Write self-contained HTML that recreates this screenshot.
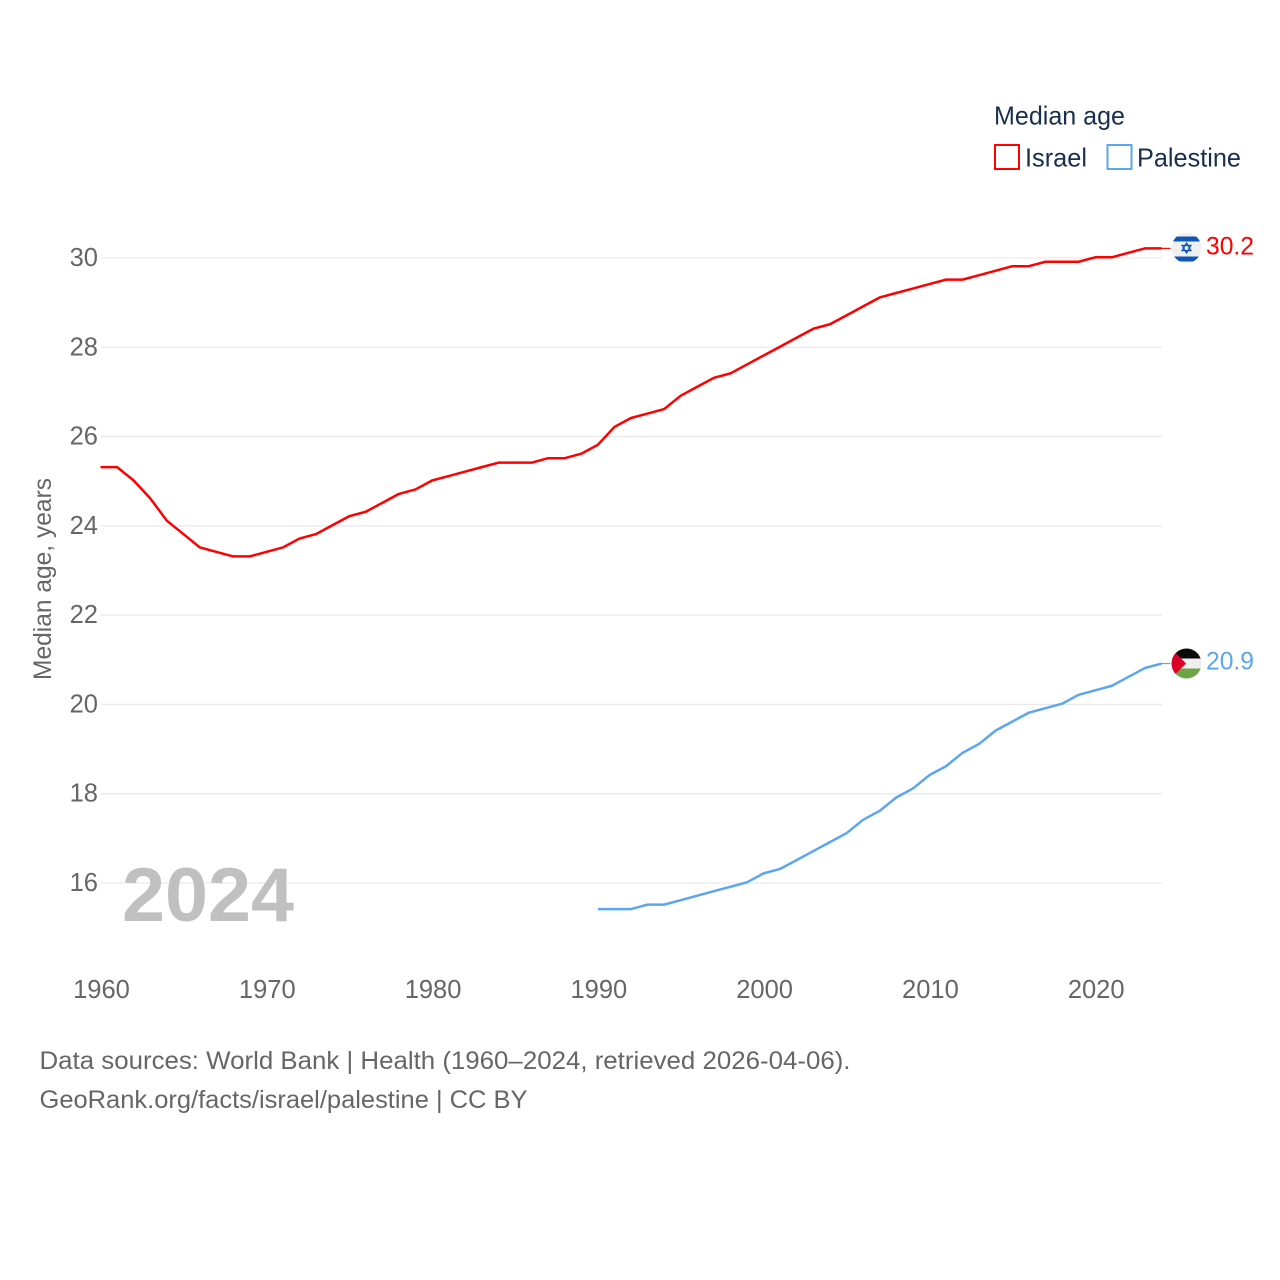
<!DOCTYPE html>
<html lang="en">
<head>
<meta charset="utf-8">
<title>Median age: Israel and Palestine</title>
<style>
html,body{margin:0;padding:0;background:#fff;width:1280px;height:1280px;overflow:hidden}
svg{display:block}
text{font-family:"Liberation Sans",sans-serif}
</style>
</head>
<body>
<svg id="chart" width="1280" height="1280" viewBox="0 0 1280 1280" xmlns="http://www.w3.org/2000/svg">
  <defs>
    <clipPath id="flag-il-clip"><circle cx="1186.5" cy="248" r="15"/></clipPath>
    <clipPath id="flag-ps-clip"><circle cx="1186.5" cy="663.5" r="15"/></clipPath>
  </defs>
  <g id="grid"></g>
  <g id="y-ticks"></g>
  <g id="x-ticks"></g>

  <text transform="translate(51,680) rotate(-90)" font-size="25" fill="#666" textLength="202" lengthAdjust="spacingAndGlyphs">Median age, years</text>
  <text x="122" y="921" font-size="76" font-weight="700" fill="#c0c0c0" textLength="172" lengthAdjust="spacingAndGlyphs">2024</text>

  <g transform="translate(-0.5,-0.7)">
    <polyline id="connector-israel" fill="none" stroke="#ff0000" stroke-width="1.2"/>
    <polyline id="connector-palestine" fill="none" stroke="#5ba6ee" stroke-width="1.2"/>
    <polyline id="line-israel" fill="none" stroke="#ff0000" stroke-width="2.5" stroke-linejoin="round"/>
    <polyline id="line-palestine" fill="none" stroke="#5ba6ee" stroke-width="2.5" stroke-linejoin="round"/>
  </g>

  <g clip-path="url(#flag-il-clip)">
    <rect x="1171" y="233" width="31" height="30" fill="#f0f0f0"/>
    <rect x="1171" y="236.5" width="31" height="5" fill="#0f56b5"/>
    <rect x="1171" y="256.5" width="31" height="5" fill="#0f56b5"/>
    <path d="M1186.5 243l4.4 7.6h-8.8z M1186.5 253l4.4-7.6h-8.8z" fill="none" stroke="#0f56b5" stroke-width="1.3"/>
  </g>
  <g clip-path="url(#flag-ps-clip)">
    <rect x="1171" y="648" width="31" height="10.5" fill="#0a0a0a"/>
    <rect x="1171" y="658.5" width="31" height="10" fill="#efefef"/>
    <rect x="1171" y="668.5" width="31" height="11" fill="#6da544"/>
    <path d="M1171 648.5L1186 663.5L1171 678.5Z" fill="#d80027"/>
  </g>

  <text id="label-israel" x="1206" y="254.5" font-size="25" fill="#ff0000" textLength="48" lengthAdjust="spacingAndGlyphs">30.2</text>
  <text id="label-palestine" x="1206" y="669.5" font-size="25" fill="#5ba6ee" textLength="48" lengthAdjust="spacingAndGlyphs">20.9</text>

  <g>
    <text x="994" y="124.5" font-size="26" fill="#1a2f4f" textLength="131" lengthAdjust="spacingAndGlyphs">Median age</text>
    <g>
      <rect x="995" y="145" width="24" height="24" fill="#fff" stroke="#ff0000" stroke-width="2"/>
      <text x="1025" y="166.5" font-size="26" fill="#1a2f4f" textLength="62" lengthAdjust="spacingAndGlyphs">Israel</text>
    </g>
    <g>
      <rect x="1107.5" y="145" width="24" height="24" fill="#fff" stroke="#5ba6ee" stroke-width="2"/>
      <text x="1137" y="166.5" font-size="26" fill="#1a2f4f" textLength="104" lengthAdjust="spacingAndGlyphs">Palestine</text>
    </g>
  </g>

  <text x="39.5" y="1069" font-size="25" fill="#666" textLength="811" lengthAdjust="spacingAndGlyphs">Data sources: World Bank | Health (1960–2024, retrieved 2026-04-06).</text>
  <text x="39.5" y="1108" font-size="25" fill="#666" textLength="488" lengthAdjust="spacingAndGlyphs">GeoRank.org/facts/israel/palestine | CC BY</text>
</svg>
<script>
const israelStartYear = 1960;
const israelValues = [25.3,25.3,25.0,24.6,24.1,23.8,23.5,23.4,23.3,23.3,23.4,23.5,23.7,23.8,24.0,24.2,24.3,24.5,24.7,24.8,25.0,25.1,25.2,25.3,25.4,25.4,25.4,25.5,25.5,25.6,25.8,26.2,26.4,26.5,26.6,26.9,27.1,27.3,27.4,27.6,27.8,28.0,28.2,28.4,28.5,28.7,28.9,29.1,29.2,29.3,29.4,29.5,29.5,29.6,29.7,29.8,29.8,29.9,29.9,29.9,30.0,30.0,30.1,30.2,30.2];
const palestineStartYear = 1990;
const palestineValues = [15.4,15.4,15.4,15.5,15.5,15.6,15.7,15.8,15.9,16.0,16.2,16.3,16.5,16.7,16.9,17.1,17.4,17.6,17.9,18.1,18.4,18.6,18.9,19.1,19.4,19.6,19.8,19.9,20.0,20.2,20.3,20.4,20.6,20.8,20.9];
const yTickValues = [16,18,20,22,24,26,28,30];
const xTickValues = [1960,1970,1980,1990,2000,2010,2020];

const NS = 'http://www.w3.org/2000/svg';
function xScale(year) { return 101 + (year - 1960) * (1162 - 101) / 64; }
function yScale(value) { return 883 - (value - 16) * (883 - 258) / 14; }
function seriesPoints(startYear, values) {
  return values.map(function (v, i) {
    return xScale(startYear + i).toFixed(2) + ',' + yScale(v).toFixed(2);
  }).join(' ');
}

const gridGroup = document.getElementById('grid');
const yGroup = document.getElementById('y-ticks');
const xGroup = document.getElementById('x-ticks');

yTickValues.forEach(function (v) {
  const line = document.createElementNS(NS, 'line');
  
  
  line.setAttribute('x1', 101);
  line.setAttribute('x2', 1162);
  line.setAttribute('y1', yScale(v));
  line.setAttribute('y2', yScale(v));
  line.setAttribute('stroke', '#e9e9e9');
  line.setAttribute('stroke-width', '1.3');
  gridGroup.appendChild(line);

  const label = document.createElementNS(NS, 'text');
  
  
  label.setAttribute('x', 98);
  label.setAttribute('y', yScale(v) + 8);
  label.setAttribute('text-anchor', 'end');
  label.setAttribute('font-size', '25.5');
  label.setAttribute('fill', '#666');
  label.textContent = String(v);
  yGroup.appendChild(label);
});

xTickValues.forEach(function (y) {
  const label = document.createElementNS(NS, 'text');
  
  
  label.setAttribute('x', xScale(y) + 0.5);
  label.setAttribute('y', 998);
  label.setAttribute('text-anchor', 'middle');
  label.setAttribute('font-size', '25.5');
  label.setAttribute('fill', '#666');
  label.textContent = String(y);
  xGroup.appendChild(label);
});

document.getElementById('line-israel').setAttribute('points', seriesPoints(israelStartYear, israelValues));
document.getElementById('line-palestine').setAttribute('points', seriesPoints(palestineStartYear, palestineValues));

const lastIsrael = israelValues[israelValues.length - 1];
const lastPalestine = palestineValues[palestineValues.length - 1];
document.getElementById('connector-israel').setAttribute('points', xScale(2024) + ',' + yScale(lastIsrael) + ' 1171,' + yScale(lastIsrael));
document.getElementById('connector-palestine').setAttribute('points', xScale(2024) + ',' + yScale(lastPalestine) + ' 1171,' + yScale(lastPalestine));
document.getElementById('label-israel').textContent = lastIsrael.toFixed(1);
document.getElementById('label-palestine').textContent = lastPalestine.toFixed(1);
</script>
</body>
</html>
